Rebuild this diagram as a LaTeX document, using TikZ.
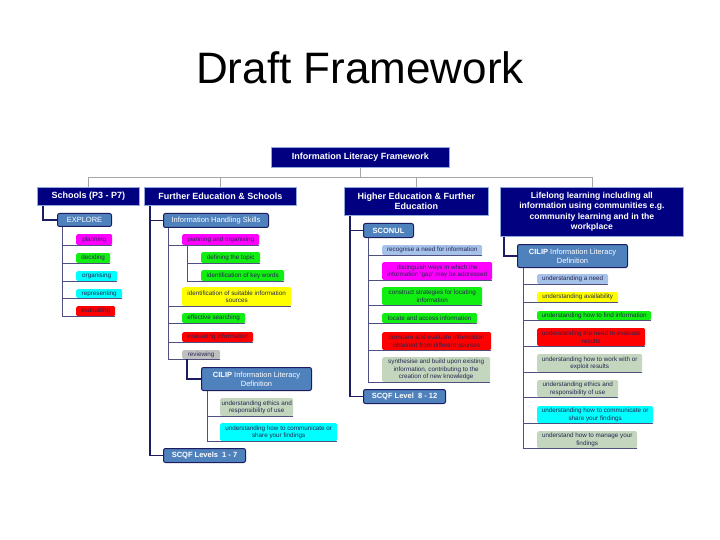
\documentclass[tikz,border=0pt]{standalone}
\usepackage{fontspec}
\setmainfont{Liberation Sans}
\definecolor{navybox}{HTML}{000080}
\definecolor{lvlborder}{HTML}{8FAADC}
\definecolor{steel}{HTML}{4F81BD}
\definecolor{dnavy}{HTML}{1C1C60}
\definecolor{lmag}{HTML}{FF00FF}
\definecolor{lgreen}{HTML}{11EE11}
\definecolor{lcyan}{HTML}{00FFFF}
\definecolor{lred}{HTML}{FF0000}
\definecolor{lyellow}{HTML}{FFFF00}
\definecolor{lgray}{HTML}{C0C0C0}
\definecolor{lblue}{HTML}{A6C2E8}
\definecolor{lsage}{HTML}{C4D7BE}
\definecolor{leaftext}{HTML}{252550}
\definecolor{linec}{HTML}{505080}
\newcommand\bx[7]{\pgfmathsetmacro\bxw{#4-#2}\pgfmathsetmacro\bxh{#5-#3}%
  \node[#6,anchor=north west,minimum width=\bxw pt,minimum height=\bxh pt] (#1) at (#2,#3) {#7};}
\tikzset{
  lvlone/.style={draw=lvlborder, line width=0.8pt, fill=navybox, text=white,
    font=\fontsize{9}{10.5}\selectfont\bfseries, inner sep=0pt, align=center},
  lvltwo/.style={draw=dnavy, line width=1pt, fill=steel, rounded corners=2pt, text=white,
    font=\fontsize{7.5}{9}\selectfont, inner sep=0pt, align=center},
  leaf/.style={rounded corners=1.5pt, text=leaftext, font=\fontsize{6.3}{7.4}\selectfont,
    inner sep=0pt, align=center},
  trunk/.style={draw=dnavy, line width=1.5pt},
  twig/.style={draw=linec, line width=0.7pt},
  topline/.style={draw=gray!70, line width=0.6pt}
}
\begin{document}
\begin{tikzpicture}[x=1pt,y=-1pt]
\useasboundingbox (0,0) rectangle (720,540);
\node[font=\fontsize{44}{50}\selectfont, anchor=base] (title) at (360,84) {Draft Framework};

% top and level one
\bx{top}{271}{147}{449}{167}{lvlone}{Information Literacy Framework}
\bx{sch}{37}{187}{139}{205}{lvlone}{Schools (P3 - P7)}
\bx{fe}{144}{187}{296}{205}{lvlone}{Further Education \& Schools}
\bx{he}{344}{187}{488}{215}{lvlone}{Higher Education \& Further\\Education}
\bx{ll}{500}{187}{683}{236}{lvlone,font=\fontsize{8.6}{10.3}\selectfont\bfseries}{Lifelong learning including all\\information using communities e.g.\\community learning and in the\\workplace}

% level two
\bx{explore}{57}{213}{111}{226}{lvltwo}{EXPLORE}
\bx{ihs}{163}{213}{268}{227}{lvltwo}{Information Handling Skills}
\bx{sconul}{363}{223}{413}{237}{lvltwo}{\bfseries SCONUL}
\bx{cilipb}{517}{244}{627}{267}{lvltwo}{\textbf{CILIP} Information Literacy\\Definition}
\bx{cilipa}{201}{367}{311}{390}{lvltwo}{\textbf{CILIP} Information Literacy\\Definition}
\bx{scqfa}{163}{448}{245}{462}{lvltwo}{\bfseries SCQF Levels~ 1 - 7}
\bx{scqfb}{363}{389}{445}{403}{lvltwo}{\bfseries SCQF Level~ 8 - 12}

% schools leaves
\bx{s1}{76}{234}{112}{245}{leaf,fill=lmag}{planning}
\bx{s2}{76}{253}{110}{263}{leaf,fill=lgreen}{deciding}
\bx{s3}{76}{271}{117}{281}{leaf,fill=lcyan}{organising}
\bx{s4}{76}{289}{122}{298}{leaf,fill=lcyan}{representing}
\bx{s5}{76}{306}{115}{316}{leaf,fill=lred}{evaluating}

% FE leaves
\bx{f1}{182}{234}{259}{245}{leaf,fill=lmag}{planning and organising}
\bx{f2}{201}{252}{260}{263}{leaf,fill=lgreen}{defining the topic}
\bx{f3}{201}{270}{284}{281}{leaf,fill=lgreen}{identification of key words}
\bx{f4}{182}{287}{291}{306}{leaf,fill=lyellow}{identification of suitable information\\sources}
\bx{f5}{182}{313}{245}{323}{leaf,fill=lgreen}{effective searching}
\bx{f6}{182}{332}{253}{342}{leaf,fill=lred}{evaluating information}
\bx{f7}{182}{350}{220}{359}{leaf,fill=lgray}{reviewing}
\bx{f8}{220}{398}{293}{416}{leaf,fill=lsage}{understanding ethics and\\responsibility of use}
\bx{f9}{220}{423}{337}{441}{leaf,fill=lcyan}{understanding how to communicate or\\share your findings}

% HE leaves
\bx{h1}{382}{245}{482}{255}{leaf,fill=lblue}{recognise a need for information}
\bx{h2}{382}{262}{492}{280}{leaf,fill=lmag}{distinguish ways in which the\\information `gap' may be addressed}
\bx{h3}{382}{287}{482}{305}{leaf,fill=lgreen}{construct strategies for locating\\information}
\bx{h4}{382}{313}{477}{323}{leaf,fill=lgreen}{locate and access information}
\bx{h5}{382}{332}{491}{350}{leaf,fill=lred}{compare and evaluate information\\obtained from different sources}
\bx{h6}{382}{357}{490}{382}{leaf,fill=lsage}{synthesise and build upon existing\\information, contributing to the\\creation of new knowledge}

% lifelong leaves
\bx{l1}{537}{274}{608}{284}{leaf,fill=lblue}{understanding a need}
\bx{l2}{537}{292}{618}{302}{leaf,fill=lyellow}{understanding availability}
\bx{l3}{537}{311}{651}{320}{leaf,fill=lgreen}{understanding how to find information}
\bx{l4}{537}{328}{645}{346}{leaf,fill=lred}{understanding the need to evaluate\\results}
\bx{l5}{537}{354}{642}{372}{leaf,fill=lsage}{understanding how to work with or\\exploit results}
\bx{l6}{537}{380}{618}{397}{leaf,fill=lsage}{understanding ethics and\\responsibility of use}
\bx{l7}{537}{406}{653}{423}{leaf,fill=lcyan}{understanding how to communicate or\\share your findings}
\bx{l8}{537}{431}{637}{448}{leaf,fill=lsage}{understand how to manage your\\findings}

% top connectors
\coordinate (hb) at (360,177);
\draw[topline] (top.south) -- (top.south |- hb);
\draw[topline] (sch.north |- hb) -- (ll.north |- hb);
\foreach \n in {sch,fe,he,ll} \draw[topline] (\n.north) -- (\n.north |- hb);

% schools
\coordinate (sx) at (43,0);
\coordinate (sv) at (62,0);
\draw[trunk] (sch.south -| sx) -- (explore.west -| sx) -- (explore.west);
\draw[twig] (explore.south -| sv) -- (s5.south -| sv);
\foreach \s in {s1,s2,s3,s4,s5} \draw[twig] (\s.south east) -- (\s.south east -| sv);

% further education
\coordinate (fx) at (150,0);
\coordinate (fv) at (168,0);
\coordinate (fw) at (187,0);
\coordinate (fy) at (207,0);
\draw[trunk] (fe.south -| fx) -- (scqfa.west -| fx) -- (scqfa.west);
\draw[trunk] (ihs.west -| fx) -- (ihs.west);
\draw[twig] (ihs.south -| fv) -- (f7.south -| fv);
\foreach \s in {f1,f4,f5,f6,f7} \draw[twig] (\s.south east) -- (\s.south east -| fv);
\draw[twig] (f1.south -| fw) -- (f3.south -| fw);
\foreach \s in {f2,f3} \draw[twig] (\s.south east) -- (\s.south east -| fw);
\draw[trunk] (f7.south -| fw) -- (cilipa.west -| fw) -- (cilipa.west);
\draw[twig] (cilipa.south -| fy) -- (f9.south -| fy);
\foreach \s in {f8,f9} \draw[twig] (\s.south east) -- (\s.south east -| fy);

% higher education
\coordinate (hx) at (350,0);
\coordinate (hv) at (368,0);
\draw[trunk] (he.south -| hx) -- (scqfb.west -| hx) -- (scqfb.west);
\draw[trunk] (sconul.west -| hx) -- (sconul.west);
\draw[twig] (sconul.south -| hv) -- (h6.south -| hv);
\foreach \s in {h1,h2,h3,h4,h5,h6} \draw[twig] (\s.south east) -- (\s.south east -| hv);

% lifelong
\coordinate (lx) at (504,0);
\coordinate (lv) at (523,0);
\draw[trunk] (ll.south -| lx) -- (cilipb.west -| lx) -- (cilipb.west);
\draw[twig] (cilipb.south -| lv) -- (l8.south -| lv);
\foreach \s in {l1,l2,l3,l4,l5,l6,l7,l8} \draw[twig] (\s.south east) -- (\s.south east -| lv);
\end{tikzpicture}
\end{document}
